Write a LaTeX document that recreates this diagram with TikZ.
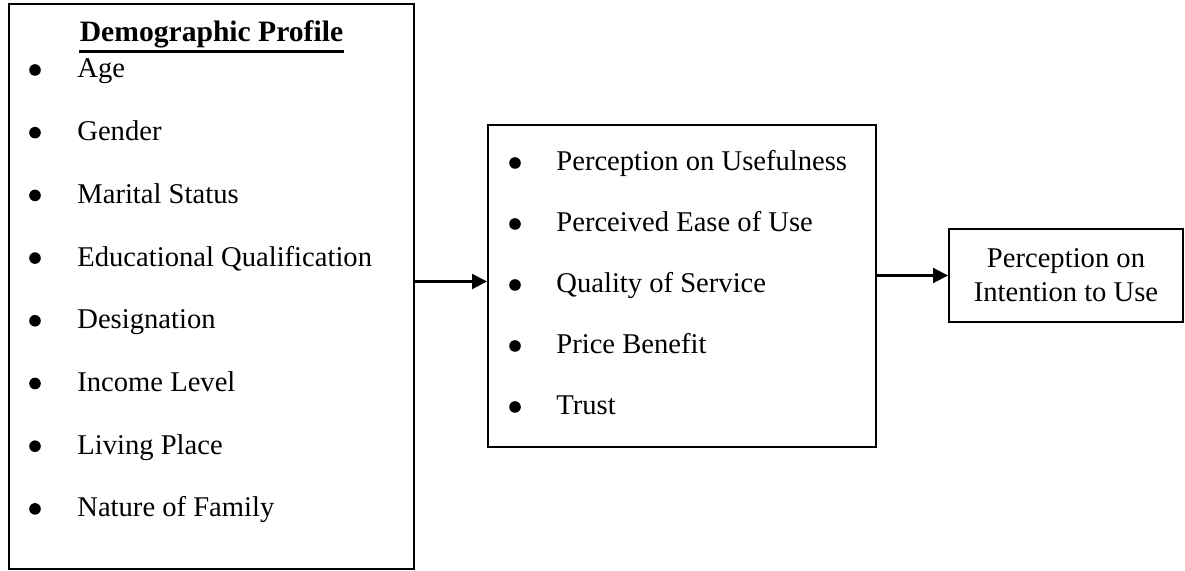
\documentclass[tikz,border=0pt]{standalone}
\usepackage{fontspec}
\setmainfont{Liberation Serif}
\usepackage{tikz}
\usetikzlibrary{arrows.meta, positioning}

\begin{document}
\begin{tikzpicture}[
    x=0.5pt, y=-0.5pt,
    font=\fontsize{14.3}{17}\selectfont,
    box/.style={rectangle, draw=black, line width=1pt, inner sep=0pt},
    item/.style={anchor=base west, inner sep=0pt},
    dot/.style={circle, fill=black, inner sep=0pt, minimum size=5.8pt},
    link/.style={-{Triangle[length=7.5pt, width=7.5pt]}, line width=1.1pt},
]
\useasboundingbox (0,0) rectangle (1185,571);

% Demographic profile block
\node[box, minimum width=202.5pt, minimum height=282.5pt] (demo) at (211.5,286.5) {};
\node[anchor=base, inner sep=0pt, font=\fontsize{14.8}{17}\selectfont\bfseries] (demotitle) at (211.5,42) {Demographic Profile};
\draw[line width=1.4pt] ([yshift=-1.2pt]demotitle.south west) -- ([yshift=-1.2pt]demotitle.south east);
\foreach \txt [count=\i from 0] in {Age, Gender, Marital Status, Educational Qualification, Designation, Income Level, Living Place, Nature of Family} {
  \node[dot] (demodot\i) at (35,70+62.7*\i) {};
  \node[item] (demoitem\i) at (77,78+62.7*\i) {\txt};
}

% Perception factors block
\node[box, minimum width=194pt, minimum height=161pt] (factors) at (682,286) {};
\foreach \txt [count=\i from 0] in {Perception on Usefulness, Perceived Ease of Use, Quality of Service, Price Benefit, Trust} {
  \node[dot] (factdot\i) at (515,163+61*\i) {};
  \node[item] (factitem\i) at (556,171+61*\i) {\txt};
}

% Outcome
\node[box, minimum width=117pt, minimum height=46.5pt, align=center] (intention) at (1066,275.5) {Perception on\\Intention to Use};

\draw[link] ([yshift=2.5pt]demo.east) -- ([yshift=2.5pt]demo.east -| factors.west);
\draw[link] (factors.east |- intention.west) -- (intention.west);

\end{tikzpicture}
\end{document}
